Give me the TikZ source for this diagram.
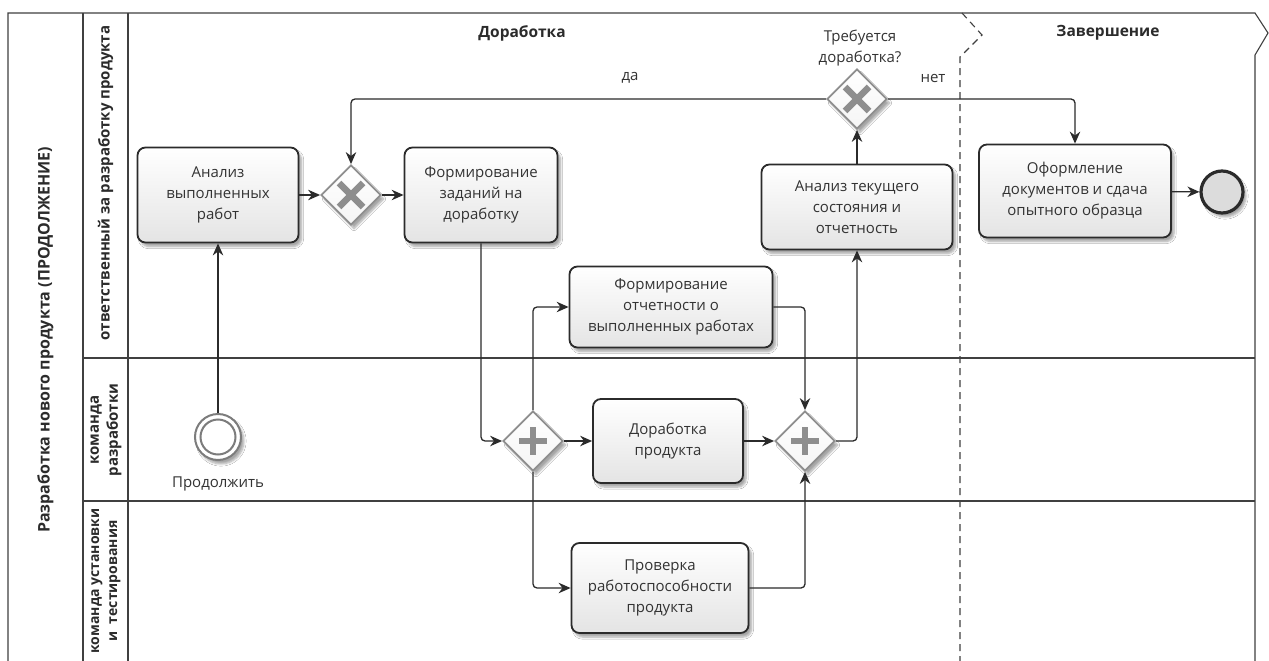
\documentclass[tikz,border=0pt]{standalone}
\usepackage{fontspec}
\setmainfont{Open Sans}
\usetikzlibrary{shapes.geometric, arrows.meta, shadows.blur}

\definecolor{ink}{HTML}{2B2B2B}
\definecolor{txt}{HTML}{333333}
\definecolor{gwline}{HTML}{8E8E8E}
\definecolor{taskbot}{HTML}{E4E4E4}
\definecolor{evgray}{HTML}{7C7C7C}
\definecolor{endfill}{HTML}{DCDCDC}

\begin{document}
\begin{tikzpicture}[x=1pt, y=-1pt,
  frame/.style={draw=ink!90, line width=1.1pt},
  phasesep/.style={draw=ink!90, line width=1.1pt, dash pattern=on 7pt off 5pt},
  softshadow/.style={blur shadow={shadow xshift=3pt, shadow yshift=-4pt, shadow opacity=35, shadow blur steps=6}},
  task/.style={draw=ink, line width=1.8pt, rounded corners=8pt, top color=white, bottom color=taskbot,
    align=center, text=txt, font=\fontsize{15}{21}\selectfont, inner sep=0pt, softshadow},
  gw/.style={diamond, aspect=1, draw=gwline, line width=1.8pt, minimum width=60pt, minimum height=60pt,
    inner sep=0pt, top color=white, bottom color=gray!8, softshadow},
  marker/.style={draw=gwline, line width=6.5pt},
  flow/.style={draw=ink, line width=1.3pt, rounded corners=4pt, -{Stealth[length=12pt, width=10.5pt]}},
  lbl/.style={text=txt, font=\fontsize{15}{21}\selectfont, align=center, inner sep=0pt},
  hdr/.style={text=ink, font=\bfseries\fontsize{15.5}{18}\selectfont, inner sep=0pt},
  lanelbl/.style={text=ink, font=\bfseries\fontsize{15}{19}\selectfont, rotate=90, align=center, inner sep=0pt}
]
\useasboundingbox (0,0) rectangle (1269,661);
\fill[white] (0,0) rectangle (1269,661);

% pool frame, lane columns and lane dividers
\draw[frame] (8,661) -- (8,13) -- (1255,13) -- (1268,33) -- (1255,55) -- (1255,661);
\draw[frame] (83,13) -- (83,661);
\draw[frame] (128,13) -- (128,661);
\draw[frame] (83,358) -- (1255,358);
\draw[frame] (83,501) -- (1255,501);

% phase separator
\draw[phasesep] (962,13) -- (982,35) -- (960,57) -- (960,661);

% pool and lane titles
\node[lanelbl, font=\bfseries\fontsize{16}{19}\selectfont] (pool) at (45.5,340) {Разработка нового продукта (ПРОДОЛЖЕНИЕ)};
\node[lanelbl] (lane1) at (105.5,183) {ответственный за разработку продукта};
\node[lanelbl] (lane2) at (106,430) {команда\\разработки};
\node[lanelbl, font=\bfseries\fontsize{14}{18}\selectfont] (lane3) at (106,581) {команда установки\\и\ \ тестирования};

% phase titles
\node[hdr] (ph1) at (522,33) {Доработка};
\node[hdr] (ph2) at (1108,33) {Завершение};

% tasks
\node[task, minimum width=161pt, minimum height=95pt] (t1) at (218,195) {Анализ\\выполненных\\работ};
\node[task, minimum width=153pt, minimum height=95pt] (t2) at (481,195) {Формирование\\заданий на\\доработку};
\node[task, minimum width=203pt, minimum height=81pt] (t3) at (671,307) {Формирование\\отчетности о\\выполненных работах};
\node[task, minimum width=150pt, minimum height=84pt] (t4) at (668,441) {Доработка\\продукта};
\node[task, minimum width=177pt, minimum height=90pt] (t5) at (660,588) {Проверка\\работоспособности\\продукта};
\node[task, minimum width=191pt, minimum height=85pt] (t6) at (857,207) {Анализ текущего\\состояния и\\отчетность};
\node[task, minimum width=192pt, minimum height=93pt] (t7) at (1075,191) {Оформление\\документов и сдача\\опытного образца};

% gateways
\node[gw] (g1) at (351,195) {};
\node[gw] (g2) at (533,441) {};
\node[gw] (g3) at (805,441) {};
\node[gw] (g4) at (857,99) {};
\foreach \g in {g1,g4}
  \draw[marker] ([shift={(-12,-12)}]\g.center) -- ([shift={(12,12)}]\g.center)
                ([shift={(-12,12)}]\g.center) -- ([shift={(12,-12)}]\g.center);
\foreach \g in {g2,g3}
  \draw[marker] ([shift={(-14,0)}]\g.center) -- ([shift={(14,0)}]\g.center)
                ([shift={(0,-14)}]\g.center) -- ([shift={(0,14)}]\g.center);
\node[lbl] (g4lbl) at (860,48) {Требуется\\доработка?};

% events
\node[circle, draw=evgray, line width=2pt, minimum size=46pt, inner sep=0pt, fill=white, softshadow] (s) at (218,437) {};
\draw[evgray, line width=2pt] (s.center) circle[radius=17.5pt];
\node[lbl] (slbl) at (218,484) {Продолжить};
\node[circle, draw=ink, line width=3.2pt, minimum size=42pt, inner sep=0pt, fill=endfill, softshadow] (e) at (1222,192) {};

% sequence flows
\draw[flow] (s) -- (t1);
\draw[flow] (t1) -- (g1);
\draw[flow] (g1) -- (t2);
\draw[flow] (t2.south) |- (g2.west);
\draw[flow] (g2.north) |- (t3.west);
\draw[flow] (g2) -- (t4);
\draw[flow] (g2.south) |- (t5.west);
\draw[flow] (t3.east) -| (g3.north);
\draw[flow] (t4) -- (g3);
\draw[flow] (t5.east) -| (g3.south);
\draw[flow] (g3.east) -| (t6.south);
\draw[flow] (t6) -- (g4);
\draw[flow] (g4.west) -| (g1.north);
\draw[flow] (g4.east) -| (t7.north);
\node[lbl] (yes) at (630,78) {да};
\node[lbl] (no) at (933,78) {нет};
\draw[flow] (t7) -- (e);
\end{tikzpicture}
\end{document}
